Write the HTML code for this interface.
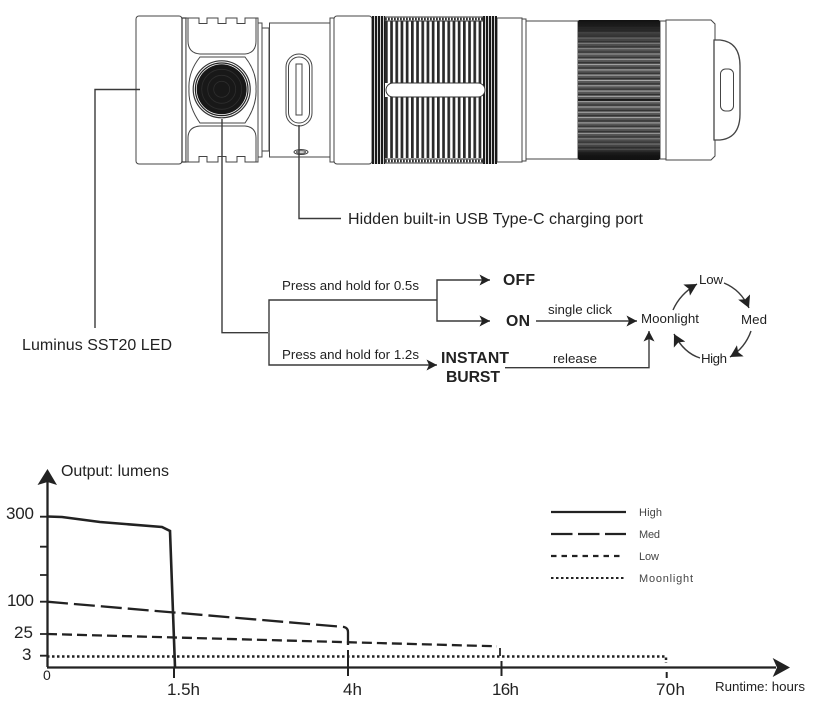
<!DOCTYPE html>
<html><head><meta charset="utf-8"><style>
html,body{margin:0;padding:0;background:#fff}
svg{display:block}
text{font-family:"Liberation Sans",sans-serif;fill:#222}
</style></head><body>
<svg width="814" height="706" viewBox="0 0 814 706" xmlns="http://www.w3.org/2000/svg">
<defs>
<pattern id="rib" width="5.2" height="10" patternUnits="userSpaceOnUse" x="385"><rect width="5.2" height="10" fill="#fff"/><rect width="2.7" height="10" fill="#2a2a2a"/></pattern>
<pattern id="fine" width="3" height="10" patternUnits="userSpaceOnUse" x="372"><rect width="3" height="10" fill="#fff"/><rect width="2.2" height="10" fill="#1a1a1a"/></pattern>
<pattern id="kn" width="10" height="5.3" patternUnits="userSpaceOnUse" y="27"><rect width="10" height="5.3" fill="#565656"/><rect y="0" width="10" height="1" fill="#a8a8a8"/><rect y="3.300" width="10" height="1.100" fill="#2e2e2e"/></pattern>
<linearGradient id="kg" x1="0" y1="0" x2="0" y2="1"><stop offset="0" stop-color="#111"/><stop offset=".05" stop-color="#1c1c1c" stop-opacity=".95"/><stop offset=".14" stop-color="#333" stop-opacity=".45"/><stop offset=".3" stop-color="#555" stop-opacity="0"/><stop offset=".75" stop-color="#555" stop-opacity="0"/><stop offset=".9" stop-color="#333" stop-opacity=".5"/><stop offset=".96" stop-color="#111" stop-opacity=".95"/><stop offset="1" stop-color="#111"/></linearGradient>
<marker id="ah" markerWidth="13" markerHeight="13" refX="10.500" refY="5.500" orient="auto" markerUnits="userSpaceOnUse"><path d="M0 0L10.500 5.500L0 11L2.500 5.500Z" fill="#222"/></marker>
<marker id="ac" markerWidth="15" markerHeight="15" refX="12" refY="6.500" orient="auto" markerUnits="userSpaceOnUse"><path d="M0 0L12 6.500L0 13L2.500 6.500Z" fill="#222"/></marker>
</defs>

<!-- flashlight -->
<g fill="#fff" stroke="#444" stroke-width="1">
<rect x="136" y="16" width="46" height="148" rx="3"/>
<rect x="182" y="18" width="4" height="144" fill="#fff" stroke="#333" stroke-width="1.200"/>
<path d="M186 18H199V23.500H207V18H218V23.500H226V18H237V23.500H245V18H258V162H245V156.500H237V162H226V156.500H218V162H207V156.500H199V162H186Z"/>
<path d="M188 18V41Q188 53 200 54H245Q256 53 256 41V18" fill="none"/>
<path d="M188 162V138Q188 127 200 126H245Q256 127 256 138V162" fill="none"/>
<path d="M200 57H245Q257 72 256 89Q257 106 245 123H200Q188 106 189 89Q188 72 200 57Z"/>
<rect x="258" y="23" width="4" height="134"/>
<rect x="262" y="28" width="7" height="123"/>
<rect x="269.500" y="23" width="60.500" height="134"/>
<rect x="330" y="18" width="4" height="144"/>
<rect x="334" y="16" width="38" height="148" rx="3"/>
<rect x="286" y="54" width="26" height="72" rx="13"/>
<rect x="288.500" y="57" width="21" height="66" rx="10.500"/>
<rect x="296" y="64" width="6" height="51"/>
<ellipse cx="301" cy="152" rx="7" ry="2.500"/>
<ellipse cx="301" cy="152" rx="4.500" ry="1.300"/>
<rect x="497" y="18" width="25" height="144"/>
<rect x="522" y="19" width="4" height="142"/>
<rect x="526" y="21" width="52" height="138"/>
<rect x="660" y="21" width="6" height="138"/>
<path d="M666 20H711L715 24V156L711 160H666Z"/>
<path d="M714 40H720Q740 42 740 66V114Q740 138 720 140H714Q714 140 714 130V50Z" stroke-width="1.300"/>
<rect x="720.500" y="69" width="13" height="42" rx="5"/>
</g>
<circle cx="221.700" cy="89.300" r="28.500" fill="#fff" stroke="#333" stroke-width="1.200"/>
<circle cx="221.700" cy="89.300" r="26.300" fill="#fff" stroke="#222" stroke-width="1.200"/>
<circle cx="221.700" cy="89.300" r="25" fill="#181818"/>
<g fill="none" stroke="#2e2e2e" stroke-width=".8"><circle cx="221.700" cy="89.300" r="20"/><circle cx="221.700" cy="89.300" r="14"/><circle cx="221.700" cy="89.300" r="8"/></g>
<!-- ribs -->
<rect x="372" y="16" width="13" height="148" fill="url(#fine)"/>
<rect x="385" y="21" width="98" height="62" fill="url(#rib)"/>
<rect x="385" y="97" width="98" height="61" fill="url(#rib)"/>
<rect x="483" y="16" width="14" height="148" fill="url(#fine)"/>
<rect x="385" y="17" width="98" height="4" fill="#fff" stroke="#333" stroke-width="1"/>
<rect x="385" y="159" width="98" height="4" fill="#fff" stroke="#333" stroke-width="1"/>
<path d="M385 19H483M385 161H483" stroke="#333" stroke-width="2.500" stroke-dasharray="1.800 1.200" fill="none"/>
<rect x="386" y="83" width="99" height="14" rx="7" fill="#fff" stroke="#333"/>
<rect x="578" y="20" width="82" height="140" rx="2" fill="url(#kn)"/>
<rect x="578" y="20" width="82" height="140" rx="2" fill="url(#kg)"/>
<path d="M578 100H660" stroke="#000" stroke-width="1.200"/>

<!-- leaders -->
<g fill="none" stroke="#3a3a3a" stroke-width="1.400">
<path d="M140 89.500H95V328"/>
<path d="M222 119V332.700H268"/>
<path d="M299 125V218.500H341"/>
<path d="M269 332.700V300H437"/>
<path d="M269 332.700V365H437" marker-end="url(#ah)"/>
<path d="M437 300V280H490" marker-end="url(#ah)"/>
<path d="M437 300V321H490" marker-end="url(#ah)"/>
<path d="M536 321H637" marker-end="url(#ah)"/>
<path d="M505 367.700H649V331" marker-end="url(#ah)"/>
<path d="M673 310Q680 294 697 284" marker-end="url(#ac)"/>
<path d="M724 283Q741 290 749 308" marker-end="url(#ac)"/>
<path d="M751 331Q745 348 730 357" marker-end="url(#ac)"/>
<path d="M700 358Q684 353 674 334" marker-end="url(#ac)"/>
</g>

<text x="348" y="224" font-size="16" textLength="295">Hidden built-in USB Type-C charging port</text>
<text x="22" y="350" font-size="16" textLength="150">Luminus SST20 LED</text>
<text x="282" y="290" font-size="13.300" textLength="137">Press and hold for 0.5s</text>
<text x="282" y="359" font-size="13.300" textLength="137">Press and hold for 1.2s</text>
<g font-weight="bold" font-size="15.800">
<text x="503" y="285" textLength="32">OFF</text>
<text x="506" y="326" textLength="24">ON</text>
<text x="441" y="363" textLength="68">INSTANT</text>
<text x="446" y="382" textLength="54">BURST</text>
</g>
<text x="548" y="314" font-size="13.300" textLength="64">single click</text>
<text x="553" y="363" font-size="13.300" textLength="44">release</text>
<text x="641" y="323" font-size="13.300" textLength="58">Moonlight</text>
<text x="699" y="284" font-size="13.300" textLength="24">Low</text>
<text x="741" y="324" font-size="13.300" textLength="26">Med</text>
<text x="701" y="363" font-size="13.300" textLength="26">High</text>

<!-- chart -->
<g fill="none" stroke="#222">
<path d="M47.500 480V667" stroke-width="2.300"/>
<path d="M47 667.500H776" stroke-width="2.300"/>
<path d="M40 516.700H47M40 546.700H47M40 575H47M40 601.700H47M40 634H47M40 655.700H47" stroke-width="1.800"/>
<path d="M174 667V678M348 650V676M501.500 661V676M666.700 672V678" stroke-width="2"/>
<path d="M47 516.500L62 517L100 522L162 527L170 531L175 667" stroke-width="2.600"/>
<path d="M47 601.700L344 627Q348 628 348 632V645" stroke-width="2.300" stroke-dasharray="21 6"/>
<path d="M47 634L497 646.300" stroke-width="2.300" stroke-dasharray="10 5"/>
<path d="M500 648V656" stroke-width="1.800"/>
<path d="M47 656.500H666V663" stroke-width="2.500" stroke-dasharray="2.500 2.500"/>
<path d="M551 512H626" stroke-width="2.200"/>
<path d="M551 534H626" stroke-width="2.200" stroke-dasharray="21.500 5.500"/>
<path d="M551 556H622" stroke-width="2.200" stroke-dasharray="5.500 5"/>
<path d="M551 578H624" stroke-width="2" stroke-dasharray="2.500 2.500"/>
</g>
<path d="M47.500 469L57 485L47.500 482L37.500 485Z" fill="#222"/>
<path d="M790 667.500L772.700 658L777 667.500L772.700 677Z" fill="#222"/>

<text x="61" y="476" font-size="16" textLength="108">Output: lumens</text>
<text x="6" y="519" font-size="17" textLength="28">300</text>
<text x="7" y="606" font-size="17" textLength="27">100</text>
<text x="14" y="638" font-size="17" textLength="19">25</text>
<text x="22" y="660" font-size="17">3</text>
<text x="43" y="680" font-size="14">0</text>
<text x="167" y="695" font-size="17" textLength="33">1.5h</text>
<text x="343" y="695" font-size="17" textLength="19">4h</text>
<text x="492" y="695" font-size="17" textLength="27">16h</text>
<text x="656" y="695" font-size="17" textLength="29">70h</text>
<text x="715" y="691" font-size="13.300" textLength="90">Runtime: hours</text>
<g font-size="11">
<text x="639" y="516" style="fill:#444" textLength="23">High</text>
<text x="639" y="538" style="fill:#444" textLength="21">Med</text>
<text x="639" y="560" style="fill:#444" textLength="20">Low</text>
<text x="639" y="582" style="fill:#444" textLength="54">Moonlight</text>
</g>
</svg>
</body></html>
